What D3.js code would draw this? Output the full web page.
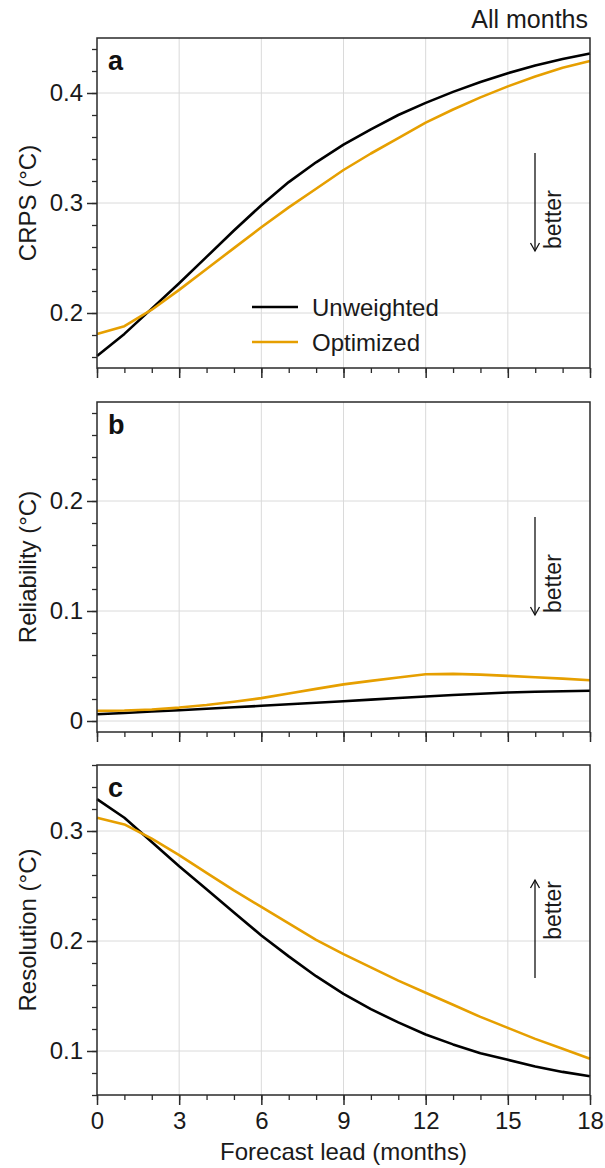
<!DOCTYPE html>
<html>
<head>
<meta charset="utf-8">
<script src="https://cdn.jsdelivr.net/npm/d3@7"></script>
<style>
  html, body { margin: 0; padding: 0; background: #fff; }
  svg { display: block; font-family: "Liberation Sans", Arial, Helvetica, sans-serif; }
</style>
</head>
<body>
<svg id="chart" width="605" height="1168"></svg>
<script>
// ---- data ----
const leadMonths = [0,1,2,3,4,5,6,7,8,9,10,11,12,13,14,15,16,17,18];
const seriesNames = ["Unweighted", "Optimized"];

const crpsUnweighted = [0.161,0.181,0.204,0.227,0.251,0.275,0.298,0.319,0.337,0.353,0.367,0.380,0.391,0.401,0.410,0.418,0.425,0.431,0.436];
const crpsOptimized  = [0.181,0.188,0.203,0.221,0.240,0.259,0.278,0.296,0.313,0.330,0.345,0.359,0.373,0.385,0.396,0.406,0.415,0.423,0.429];

const relUnweighted = [0.0061,0.0073,0.0086,0.0098,0.0111,0.0125,0.0138,0.0152,0.0166,0.0180,0.0194,0.0209,0.0223,0.0236,0.0248,0.0259,0.0266,0.0271,0.0275];
const relOptimized  = [0.0092,0.0095,0.0105,0.0122,0.0145,0.0175,0.0208,0.0250,0.0292,0.0333,0.0365,0.0395,0.0425,0.0428,0.0422,0.0410,0.0398,0.0385,0.0370];

const resUnweighted = [0.329,0.312,0.290,0.268,0.247,0.226,0.205,0.186,0.168,0.152,0.138,0.126,0.115,0.106,0.098,0.092,0.086,0.081,0.077];
const resOptimized  = [0.312,0.306,0.293,0.278,0.262,0.246,0.231,0.216,0.201,0.188,0.176,0.164,0.153,0.142,0.131,0.121,0.111,0.102,0.093];

const xTicks = [0,3,6,9,12,15,18];
const crpsTicks = [0.2,0.3,0.4];
const relTicks = [0,0.1,0.2];
const resTicks = [0.1,0.2,0.3];
const crpsDomain = [0.15,0.45];
const relDomain = [-0.01,0.29];
const resDomain = [0.06,0.36];

const panelLetters = ["a","b","c"];
const yTitles = ["CRPS (°C)", "Reliability (°C)", "Resolution (°C)"];
const betterDirection = ["down","down","up"];

// ---- layout ----
const svg = d3.select("#chart");
const left = 97, right = 590, plotH = 330;
const tops = [38, 402, 765];
const colors = ["#000000", "#E69F00"];
const fontSize = 24;
const axisColor = "#2a2a2a";

const x = d3.scaleLinear().domain([0,18]).range([left, right]);

const panels = [
  {series:[crpsUnweighted, crpsOptimized], ticks:crpsTicks, domain:crpsDomain},
  {series:[relUnweighted, relOptimized], ticks:relTicks, domain:relDomain},
  {series:[resUnweighted, resOptimized], ticks:resTicks, domain:resDomain}
];

function minorTicks(domain, step) {
  const out = [];
  const start = Math.ceil(domain[0]/step - 1e-9);
  const end = Math.floor(domain[1]/step + 1e-9);
  for (let i = start; i <= end; i++) out.push(+(i*step).toFixed(4));
  return out;
}

panels.forEach((p, i) => {
  const top = tops[i], bottom = top + plotH;
  const y = d3.scaleLinear().domain(p.domain).range([bottom, top]);
  const g = svg.append("g");

  // gridlines
  g.append("g").selectAll("line.vg").data(xTicks.slice(1, -1)).join("line")
    .attr("x1", d => x(d)).attr("x2", d => x(d))
    .attr("y1", top).attr("y2", bottom)
    .attr("stroke", "#dadada").attr("stroke-width", 1);
  g.append("g").selectAll("line.hg").data(p.ticks).join("line")
    .attr("x1", left).attr("x2", right)
    .attr("y1", d => y(d)).attr("y2", d => y(d))
    .attr("stroke", "#dadada").attr("stroke-width", 1);

  // lines
  const line = d3.line().x((d, k) => x(leadMonths[k])).y(d => y(d));
  p.series.forEach((s, k) => {
    g.append("path").datum(s)
      .attr("fill", "none").attr("stroke", colors[k])
      .attr("stroke-width", 2.6).attr("stroke-linejoin", "round")
      .attr("d", line);
  });

  // frame
  g.append("rect").attr("x", left).attr("y", top)
    .attr("width", right - left).attr("height", plotH)
    .attr("fill", "none").attr("stroke", axisColor).attr("stroke-width", 1.5);

  // y axis minor
  const yMinor = d3.axisLeft(y).tickValues(minorTicks(p.domain, 0.02)).tickSize(5).tickFormat("");
  const gym = g.append("g").attr("transform", `translate(${left},0)`).call(yMinor);
  gym.select(".domain").remove();
  gym.selectAll("line").attr("stroke", axisColor).attr("stroke-width", 1.3);

  // y axis major
  const yAxis = d3.axisLeft(y).tickValues(p.ticks).tickSize(10).tickPadding(4)
    .tickFormat(d => d === 0 ? "0" : d3.format(".1f")(d));
  const gy = g.append("g").attr("transform", `translate(${left},0)`).call(yAxis);
  gy.select(".domain").remove();
  gy.selectAll("line").attr("stroke", axisColor).attr("stroke-width", 1.5);
  gy.selectAll("text").attr("font-size", fontSize).attr("fill", "#1a1a1a")
    .attr("font-family", "Liberation Sans, Arial, sans-serif");

  // x axis minor
  const xMinor = d3.axisBottom(x).tickValues(leadMonths).tickSize(5).tickFormat("");
  const gxm = g.append("g").attr("transform", `translate(0,${bottom})`).call(xMinor);
  gxm.select(".domain").remove();
  gxm.selectAll("line").attr("stroke", axisColor).attr("stroke-width", 1.3);

  // x axis major
  const xAxis = d3.axisBottom(x).tickValues(xTicks).tickSize(10).tickPadding(7)
    .tickFormat(i === 2 ? d3.format("d") : "");
  const gx = g.append("g").attr("transform", `translate(0,${bottom})`).call(xAxis);
  gx.select(".domain").remove();
  gx.selectAll("line").attr("stroke", axisColor).attr("stroke-width", 1.5);
  gx.selectAll("text").attr("font-size", fontSize).attr("fill", "#1a1a1a")
    .attr("font-family", "Liberation Sans, Arial, sans-serif");

  // y title
  g.append("text")
    .attr("transform", `translate(36,${top + plotH/2}) rotate(-90)`)
    .attr("text-anchor", "middle")
    .attr("font-size", fontSize).attr("fill", "#1a1a1a")
    .text(yTitles[i]);

  // panel letter
  g.append("text").attr("x", 108).attr("y", top + 32)
    .attr("font-size", 27).attr("font-weight", "bold").attr("fill", "#111")
    .text(panelLetters[i]);

  // better arrow
  const ax = 535;
  const yHi = top + 115, yLo = top + 213;
  const down = betterDirection[i] === "down";
  const yTail = down ? yHi : yLo, yHead = down ? yLo : yHi;
  const hd = down ? -1 : 1;
  g.append("line").attr("x1", ax).attr("x2", ax).attr("y1", yTail).attr("y2", yHead)
    .attr("stroke", "#111").attr("stroke-width", 1.3);
  g.append("path")
    .attr("d", `M${ax-4.5},${yHead + hd*8} L${ax},${yHead} L${ax+4.5},${yHead + hd*8}`)
    .attr("fill", "none").attr("stroke", "#111").attr("stroke-width", 1.3);
  g.append("text")
    .attr("transform", `translate(561,${down ? yHead - 2 : yHead + 1}) rotate(-90)`)
    .attr("text-anchor", down ? "start" : "end")
    .attr("font-size", 23).attr("fill", "#1a1a1a")
    .text("better");
});

// legend (panel a)
const legY = [307, 342];
seriesNames.forEach((name, k) => {
  svg.append("line").attr("x1", 252).attr("x2", 298)
    .attr("y1", legY[k]).attr("y2", legY[k])
    .attr("stroke", colors[k]).attr("stroke-width", 2.6);
  svg.append("text").attr("x", 312).attr("y", legY[k] + 8.5)
    .attr("font-size", fontSize).attr("fill", "#1a1a1a").text(name);
});

// title top-right
svg.append("text").attr("x", 588).attr("y", 28)
  .attr("text-anchor", "end").attr("font-size", 25).attr("fill", "#1a1a1a")
  .text("All months");

// x axis title
svg.append("text").attr("x", (left + right)/2).attr("y", 1160)
  .attr("text-anchor", "middle").attr("font-size", fontSize).attr("fill", "#1a1a1a")
  .text("Forecast lead (months)");
</script>
</body>
</html>
